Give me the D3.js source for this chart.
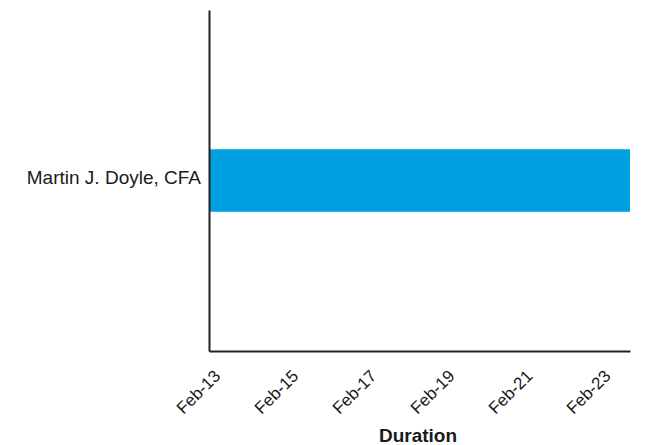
<!DOCTYPE html>
<html>
<head>
<meta charset="utf-8">
<script src="https://cdn.jsdelivr.net/npm/d3@7"></script>
<style>
  body { margin: 0; background: #fff; }
  svg { display: block; font-family: "Liberation Sans", Arial, sans-serif; }
</style>
</head>
<body>
<svg id="chart" width="653" height="445"></svg>
<script>
// Data
const people = ["Martin J. Doyle, CFA"]
const startDates = ["2014-02-13T00:00"]
const endDates = ["2014-02-23T19:00"]
const tickDates = ["2014-02-13", "2014-02-15", "2014-02-17", "2014-02-19", "2014-02-21", "2014-02-23"]
const xTitle = "Duration"

const parse = d3.timeParse("%Y-%m-%dT%H:%M")
const parseDay = d3.timeParse("%Y-%m-%d")

const svg = d3.select("#chart")
const margin = {top: 10, right: 23, bottom: 94, left: 209}
const width = 653 - margin.left - margin.right
const height = 445 - margin.top - margin.bottom

const rows = people.map((p, i) => ({name: p, start: parse(startDates[i]), end: parse(endDates[i])}))

let x = d3.scaleTime()
  .domain([d3.min(rows, d => d.start), d3.max(rows, d => d.end)])
  .range([0, width])

let y = d3.scaleBand()
  .domain(people)
  .range([0, height])
  .padding(0.69)

const g = svg.append("g").attr("transform", `translate(${margin.left},${margin.top})`)

g.selectAll("rect.bar")
  .data(rows)
  .enter()
    .append("rect")
    .attr("class", "bar")
    .attr("x", d => x(d.start))
    .attr("y", d => y(d.name))
    .attr("width", d => x(d.end) - x(d.start))
    .attr("height", y.bandwidth())
    .attr("fill", "#009fdf")

// x axis
let xAxis = g.append("g")
  .attr("transform", `translate(0,${height})`)
  .call(d3.axisBottom(x)
    .tickValues(tickDates.map(parseDay))
    .tickFormat(d3.timeFormat("%b-%d"))
    .tickSize(0)
    .tickSizeOuter(0))
xAxis.select(".domain").attr("stroke", "#222").attr("stroke-width", 2)
xAxis.selectAll("text")
  .attr("font-size", 17)
  .attr("fill", "#1a1a1a")
  .attr("text-anchor", "end")
  .attr("y", 0)
  .attr("dy", null)
  .attr("transform", "translate(12,26) rotate(-45)")

// y axis
let yAxis = g.append("g")
  .call(d3.axisLeft(y).tickSize(0).tickSizeOuter(0).tickPadding(8))
yAxis.select(".domain").attr("stroke", "#222").attr("stroke-width", 2)
yAxis.selectAll("text")
  .attr("font-size", 19)
  .attr("dy", "0.2em")
  .attr("fill", "#1a1a1a")

svg.append("text")
  .attr("x", 418)
  .attr("y", 442)
  .attr("text-anchor", "middle")
  .attr("font-size", 19)
  .attr("font-weight", "bold")
  .attr("fill", "#1a1a1a")
  .text(xTitle)
</script>
</body>
</html>
